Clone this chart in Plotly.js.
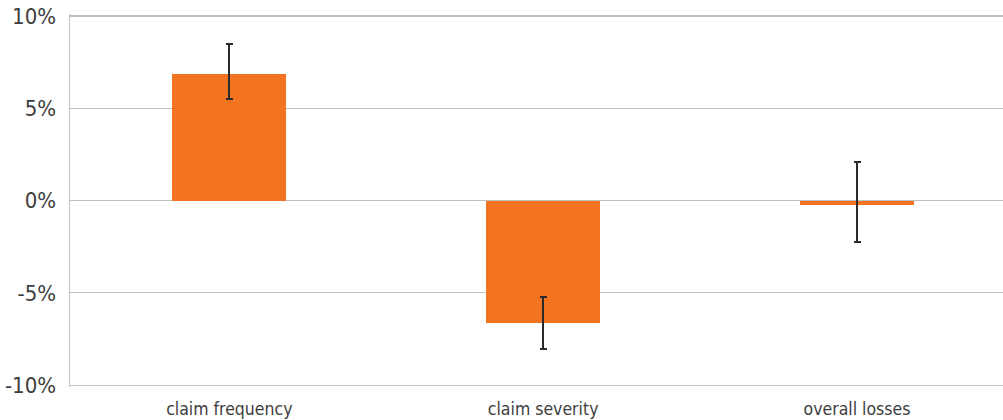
<!DOCTYPE html>
<html>
<head>
<meta charset="utf-8">
<script src="https://cdn.plot.ly/plotly-3.0.1.min.js"></script>
<style>html,body{margin:0;padding:0;background:#fff;}#chart{width:1003px;height:420px;}</style>
</head>
<body>
<div id="chart"></div>
<script>
var categories = ["claim frequency", "claim severity", "overall losses"];
var values = [6.85, -6.63, -0.25];
var errHigh = [8.45, -5.22, 2.08];
var errLow = [5.47, -8.02, -2.26];
var yTickVals = [-10, -5, 0, 5, 10];
var yTickText = ["-10%", "-5%", "0%", "5%", "10%"];

var plus = values.map(function(v, i){ return errHigh[i] - v; });
var minus = values.map(function(v, i){ return v - errLow[i]; });

var trace = {
  type: "bar",
  x: categories,
  y: values,
  width: 0.363,
  marker: {color: "#F27421"},
  error_y: {
    type: "data",
    symmetric: false,
    array: plus,
    arrayminus: minus,
    color: "#2a2a2a",
    thickness: 2,
    width: 3.5
  },
  hoverinfo: "skip"
};

var layout = {
  width: 1003,
  height: 420,
  margin: {l: 70, r: 0, t: 14.16, b: 33.44, pad: 0},
  paper_bgcolor: "#ffffff",
  plot_bgcolor: "#ffffff",
  showlegend: false,
  font: {family: "'DejaVu Sans Condensed', 'Liberation Sans Narrow', sans-serif", color: "#3d3d3d"},
  xaxis: {
    range: [-0.5076, 2.4652],
    showgrid: false,
    zeroline: false,
    showline: false,
    ticks: "",
    ticklabelstandoff: 9,
    tickfont: {size: 17.5, color: "#3d3d3d"},
    fixedrange: true
  },
  yaxis: {
    range: [-10.1, 10.1],
    tickvals: yTickVals,
    ticktext: yTickText,
    showgrid: true,
    gridcolor: "#c0c0c0",
    gridwidth: 1.3,
    zeroline: false,
    showline: true,
    linecolor: "#c0c0c0",
    linewidth: 1.5,
    ticks: "",
    ticklabelstandoff: 8,
    tickfont: {size: 22, color: "#3d3d3d"},
    fixedrange: true
  },
  bargap: 0
};

Plotly.newPlot("chart", [trace], layout, {displayModeBar: false, staticPlot: true});
</script>
</body>
</html>
